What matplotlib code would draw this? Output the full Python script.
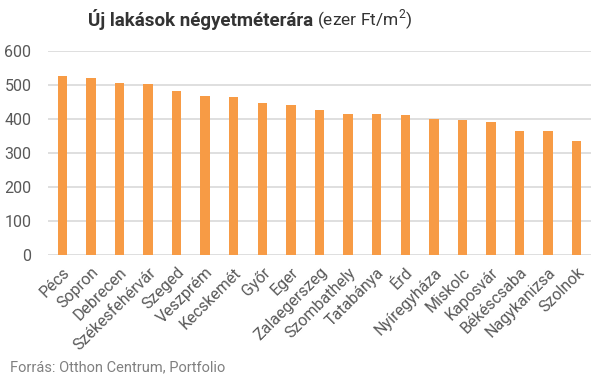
import numpy as np
import matplotlib.pyplot as plt

plt.rcParams['font.family'] = ['Roboto', 'DejaVu Sans']
plt.rcParams['mathtext.fontset'] = 'custom'
plt.rcParams['mathtext.rm'] = 'Roboto'

varosok = ["Pécs", "Sopron", "Debrecen", "Székesfehérvár", "Szeged", "Veszprém",
           "Kecskemét", "Győr", "Eger", "Zalaegerszeg", "Szombathely", "Tatabánya",
           "Érd", "Nyíregyháza", "Miskolc", "Kaposvár", "Békéscsaba", "Nagykanizsa",
           "Szolnok"]
arak = [526, 520, 506, 503, 482, 468, 465, 447, 441, 426, 415, 415, 412, 400,
        397, 391, 365, 365, 335]
y_ticks = [0, 100, 200, 300, 400, 500, 600]

W, H = 605, 379
fig = plt.figure(figsize=(W / 100, H / 100), dpi=100)
ax = fig.add_axes([48 / W, (H - 255) / H, 543 / W, (255 - 51) / H])

x = np.arange(len(varosok))
ax.bar(x, arak, width=0.33, color="#F79B45", zorder=3)

ax.set_xlim(-0.5, len(varosok) - 0.5)
ax.set_ylim(0, 600)
ax.set_yticks(y_ticks)
ax.grid(axis="y", color="#d9d9d9", linewidth=1.2, zorder=0)
for s in ax.spines.values():
    s.set_visible(False)
ax.tick_params(axis="both", length=0, colors="#595959", labelsize=11.5)
ax.tick_params(axis="y", pad=12)
ax.tick_params(axis="x", pad=7)
ax.set_xticks(x)
ax.set_xticklabels(varosok, rotation=45, ha="right", rotation_mode="anchor")

fig.text(313 / W, 1 - 20 / H, "Új lakások négyetméterára", ha="right", va="center",
         fontsize=13.5, fontweight="bold", color="#333333")
fig.text(317 / W, 1 - 20 / H, "(ezer Ft/m$^2$)", ha="left", va="center",
         fontsize=12.5, color="#333333")
fig.text(10 / W, 1 - 367 / H, "Forrás: Otthon Centrum, Portfolio", ha="left",
         va="center", fontsize=10.5, color="#808080")

fig.savefig("out.png", dpi=100)
